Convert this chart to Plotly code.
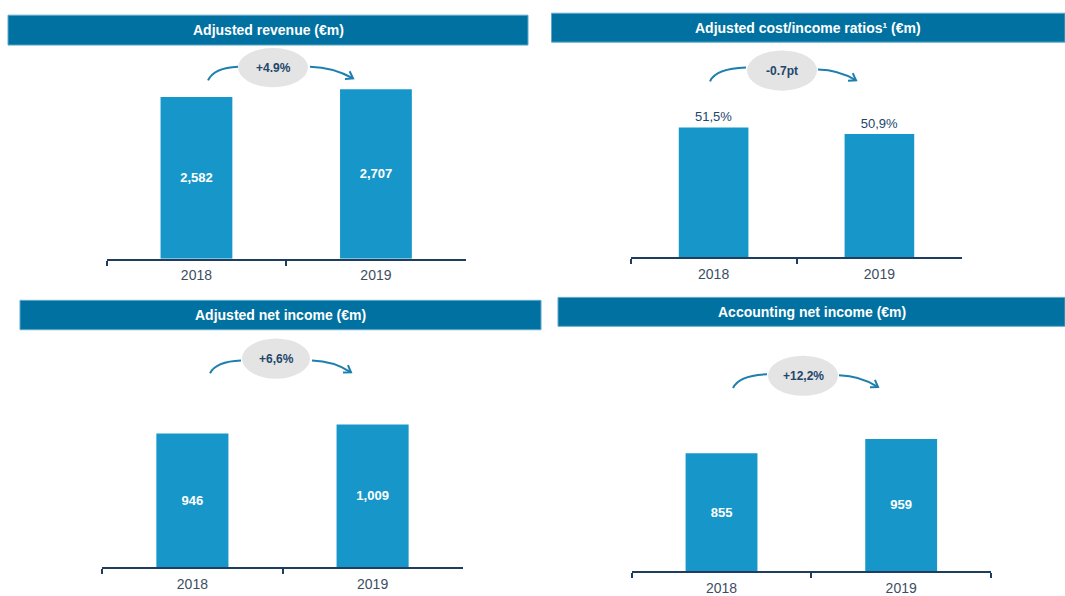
import math

import plotly.graph_objects as go

W, H = 1065, 596

years = ["2018", "2019"]
adj_revenue = [2582, 2707]
cost_income = [51.5, 50.9]
adj_net_income = [946, 1009]
acc_net_income = [855, 959]

titles = [
    "Adjusted revenue (€m)",
    "Adjusted cost/income ratios¹ (€m)",
    "Adjusted net income (€m)",
    "Accounting net income (€m)",
]
changes = ["+4.9%", "-0.7pt", "+6,6%", "+12,2%"]

HEADER = "#0071a0"
BAR = "#1797c9"
NAVY = "#23466b"
AXIS = "#1f3d5e"
ARROW = "#1c7fae"
FONT = "Liberation Sans, Arial, sans-serif"


def px(x):
    return x / W


def py(y):
    return 1 - y / H


fig = go.Figure()

# (xaxis id, values, text, textposition, bar width)
panels = [
    ("", adj_revenue, [f"{v:,}" for v in adj_revenue], "inside", 0.4),
    ("2", cost_income, [f"{v:.1f}%".replace(".", ",") for v in cost_income], "outside", 0.42),
    ("3", adj_net_income, [f"{v:,}" for v in adj_net_income], "inside", 0.4),
    ("4", acc_net_income, [f"{v:,}" for v in acc_net_income], "inside", 0.4),
]
for ax, vals, txt, pos, width in panels:
    inside = pos == "inside"
    fig.add_trace(go.Bar(
        x=years, y=vals, text=txt, textposition=pos, width=width,
        insidetextanchor="middle", cliponaxis=False,
        marker=dict(color=BAR, line=dict(width=0)),
        textfont=dict(family=FONT, size=13,
                      color="white" if inside else NAVY,
                      weight="bold" if inside else "normal"),
        xaxis="x" + ax, yaxis="y" + ax, hoverinfo="skip",
    ))

# plot areas in pixels: (x0, x1, top, baseline) and y ranges
areas = [
    (106.7, 465.7, 60, 264, [0, 204 / 0.0639]),
    (630.7, 962.3, 60, 262.7, [39.6, 39.6 + 202.7 / 11.15]),
    (102.3, 462.7, 400, 579, [0, 179 / 0.1445]),
    (631.7, 991.0, 420, 582.7, [0, 162.7 / 0.1404]),
]
layout = {}
for i, (x0, x1, top, base, rng) in enumerate(areas):
    s = "" if i == 0 else str(i + 1)
    layout["xaxis" + s] = dict(
        domain=[px(x0), px(x1)], anchor="y" + s, type="category",
        showline=True, linecolor=AXIS, linewidth=2,
        ticks="outside", tickson="boundaries", ticklen=5, tickwidth=2,
        tickcolor=AXIS, showgrid=False, zeroline=False, fixedrange=True,
        ticklabelstandoff=3,
        tickfont=dict(family=FONT, size=14, color="#3d4e63"),
    )
    layout["yaxis" + s] = dict(
        domain=[py(base), py(top)], anchor="x" + s, range=rng,
        visible=False, showgrid=False, zeroline=False, fixedrange=True,
    )

shapes = []
annotations = []

# header bars
headers = [
    (8, 15.5, 528, 46),
    (551.5, 13.5, 1065, 43),
    (20, 306.5, 541, 336.5),
    (558, 303.5, 1065, 333),
]
for (x0, y0, x1, y1), title in zip(headers, titles):
    shapes.append(dict(type="rect", xref="paper", yref="paper",
                       x0=px(x0), x1=px(x1), y0=py(y1), y1=py(y0),
                       fillcolor=HEADER, line=dict(color="#5fa8cb", width=1),
                       layer="below"))
    annotations.append(dict(xref="paper", yref="paper", x=px((x0 + x1) / 2),
                            y=py((y0 + y1) / 2), text=f"<b>{title}</b>",
                            showarrow=False, xanchor="center", yanchor="middle",
                            font=dict(family=FONT, size=14, color="white")))

# change bubbles with curved arrows: centre, radii, left curve, right arrow
bubbles = [
    ((273, 69), (35, 20), ((208, 82), (238, 68)), ((310, 68), (353, 80))),
    ((782, 72), (35, 20.5), ((710, 83), (746, 69)), ((818, 71), (856, 82))),
    ((276, 366), (34, 20.5), ((210, 381), (241, 368)), ((312, 368), (351, 380))),
    ((803, 383.5), (35, 20.5), ((733, 396), (767, 382)), ((839, 383), (878, 395))),
]


def pt(x, y):
    return f"{px(x):.5f},{py(y):.5f}"


for ((cx, cy), (rx, ry), (ls, le), (rs, re_)), label in zip(bubbles, changes):
    shapes.append(dict(type="circle", xref="paper", yref="paper",
                       x0=px(cx - rx), x1=px(cx + rx), y0=py(cy + ry), y1=py(cy - ry),
                       fillcolor="#e4e4e4", line=dict(width=0), layer="below"))
    annotations.append(dict(xref="paper", yref="paper", x=px(cx), y=py(cy),
                            xanchor="center", yanchor="middle",
                            text=f"<b>{label}</b>", showarrow=False,
                            font=dict(family=FONT, size=12, color=NAVY)))
    # left arc rising towards the bubble
    lc = (ls[0] + 6, le[1] + 1)
    shapes.append(dict(type="path", xref="paper", yref="paper",
                       path=f"M {pt(*ls)} Q {pt(*lc)} {pt(*le)}",
                       line=dict(color=ARROW, width=2)))
    # right arc descending with arrow head
    rc = (rs[0] + (re_[0] - rs[0]) * 0.55, rs[1] + 0.5)
    ang = math.atan2(re_[1] - rc[1], re_[0] - rc[0])
    wings = []
    for d in (0.6, -0.6):
        a = ang + math.pi + d
        wings.append((re_[0] + 8 * math.cos(a), re_[1] + 8 * math.sin(a)))
    shapes.append(dict(type="path", xref="paper", yref="paper",
                       path=f"M {pt(*rs)} Q {pt(*rc)} {pt(*re_)}",
                       line=dict(color=ARROW, width=2)))
    shapes.append(dict(type="path", xref="paper", yref="paper",
                       path=f"M {pt(*wings[0])} L {pt(*re_)} L {pt(*wings[1])}",
                       line=dict(color=ARROW, width=2)))

fig.update_layout(
    width=W, height=H,
    margin=dict(l=0, r=0, t=0, b=0),
    paper_bgcolor="white", plot_bgcolor="white",
    showlegend=False, bargap=0.6,
    shapes=shapes, annotations=annotations,
    font=dict(family=FONT),
    **layout,
)

# no page margin or scrollbars: the figure fills the window exactly
fig.write_html(
    "out.html", config={"displayModeBar": False},
    post_script="document.documentElement.style.overflow='hidden';"
                "document.body.style.overflow='hidden';"
                "document.body.style.margin='0';"
                "document.getElementById('{plot_id}').style.overflow='hidden';",
)
